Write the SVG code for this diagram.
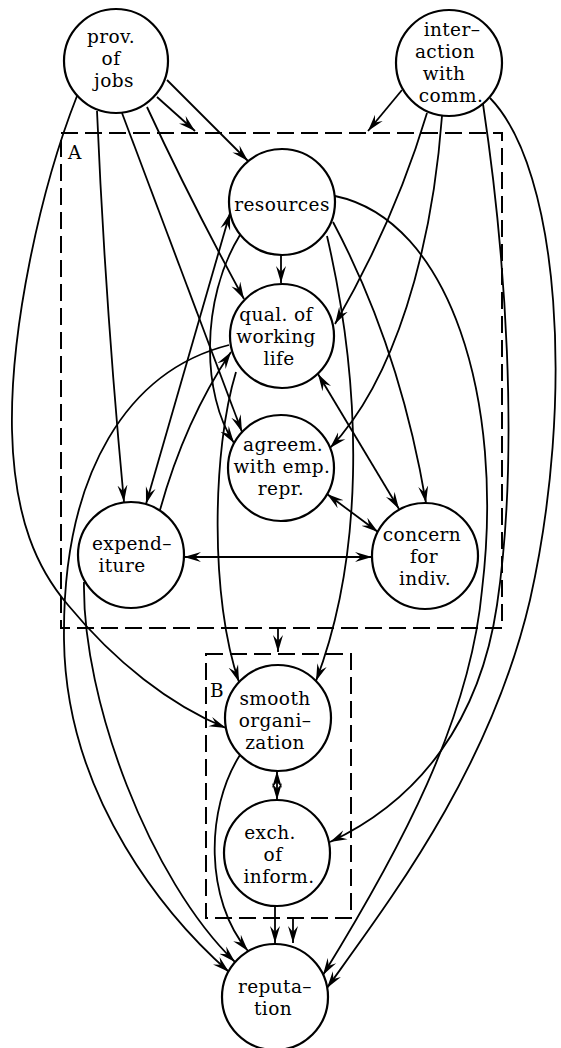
<svg xmlns="http://www.w3.org/2000/svg" width="561" height="1048" viewBox="0 0 561 1048">
  <defs>
    <marker id="arr" markerUnits="userSpaceOnUse" markerWidth="18" markerHeight="12" viewBox="0 0 18 12" refX="17" refY="6" orient="auto-start-reverse">
      <path d="M0,1 L17,6 L0,11 L6,6 Z" fill="#000"/>
    </marker>
    <style>
      .node circle { fill: #fff; stroke: #000; stroke-width: 2.2; }
      .node text, .lbl { font-family: "DejaVu Serif", "Liberation Serif", serif; font-size: 18.5px; letter-spacing: 0.4px; fill: #000; text-anchor: middle; }
      .lbl { text-anchor: start; }
      .box { fill: none; stroke: #000; stroke-width: 2; stroke-dasharray: 17 7; }
      .edges path { fill: none; stroke: #000; stroke-width: 1.8; }
      .one { marker-end: url(#arr); }
      .two { marker-start: url(#arr); marker-end: url(#arr); }
    </style>
  </defs>
  <rect width="561" height="1048" fill="#fff"/>

  <!-- group frames -->
  <g id="groupA">
    <rect class="box" x="61" y="133" width="441" height="495"/>
    <text class="lbl" x="68" y="159">A</text>
  </g>
  <g id="groupB">
    <rect class="box" x="206" y="654" width="145" height="264"/>
    <text class="lbl" x="210" y="697">B</text>
  </g>

  <!-- connectors -->
  <g class="edges">
    <path class="one" d="M157,97 L195,131"/>
    <path class="one" d="M402,90 L368,131"/>
    <path class="one" d="M278,628 L278,652"/>
    <path class="one" d="M293,918 L293,943"/>
    <path class="one" d="M275,906 L275,943"/>
    <path class="two" d="M277,771 L277,800"/>
    <path class="one" d="M167,80 L248,161"/>
    <path class="one" d="M147,107 Q190,200 244,299"/>
    <path class="one" d="M122,113 L242,432"/>
    <path class="one" d="M97,111 Q105,300 124,502"/>
    <path class="one" d="M77,96 C40,190 10,330 12,430 C14,520 38,570 68,605 C115,662 170,705 226,728"/>
    <path class="one" d="M281,255 L281,283"/>
    <path class="two" d="M230,213 L146,504"/>
    <path class="one" d="M160,510 Q185,420 231,352"/>
    <path class="one" d="M240,235 C200,300 202,395 234,443"/>
    <path class="one" d="M236,372 C212,450 210,600 239,682"/>
    <path class="one" d="M327,236 C365,400 362,560 316,681"/>
    <path class="one" d="M333,222 C385,320 412,420 426,503"/>
    <path class="two" d="M318,374 L399,509"/>
    <path class="two" d="M327,494 L378,532"/>
    <path class="two" d="M184,557 L372,557"/>
    <path class="one" d="M229,345 C130,370 62,470 64,640 C66,800 170,920 229,972"/>
    <path class="one" d="M84,582 C82,700 150,880 235,962"/>
    <path class="one" d="M240,755 C205,810 205,900 248,951"/>
    <path class="one" d="M335,196 C450,220 505,400 482,590 C470,720 400,850 323,975"/>
    <path class="one" d="M483,104 C505,250 520,450 497,605 C480,720 420,800 330,842"/>
    <path class="one" d="M490,98 C560,170 575,400 530,600 C490,770 390,900 327,988"/>
    <path class="one" d="M427,113 Q395,220 335,324"/>
    <path class="one" d="M442,116 C432,250 395,380 330,448"/>
  </g>

  <!-- nodes -->
  <g id="prov-of-jobs" class="node">
    <circle cx="116" cy="61" r="52"/>
    <text x="111" y="43">prov.</text>
    <text x="111" y="65">of</text>
    <text x="114" y="87">jobs</text>
  </g>
  <g id="interaction-with-comm" class="node">
    <circle cx="449" cy="63" r="53"/>
    <text x="452" y="36">inter–</text>
    <text x="445" y="58">action</text>
    <text x="444" y="80">with</text>
    <text x="451" y="102">comm.</text>
  </g>
  <g id="resources" class="node">
    <circle cx="282" cy="202" r="53"/>
    <text x="282" y="211">resources</text>
  </g>
  <g id="qual-of-working-life" class="node">
    <circle cx="282" cy="336" r="52"/>
    <text x="276" y="321">qual. of</text>
    <text x="276" y="343">working</text>
    <text x="279" y="365">life</text>
  </g>
  <g id="agreem-with-emp-repr" class="node">
    <circle cx="281" cy="468" r="53"/>
    <text x="283" y="451">agreem.</text>
    <text x="282" y="473">with emp.</text>
    <text x="281" y="495">repr.</text>
  </g>
  <g id="expenditure" class="node">
    <circle cx="131" cy="555" r="53"/>
    <text x="132" y="550">expend–</text>
    <text x="122" y="572">iture</text>
  </g>
  <g id="concern-for-indiv" class="node">
    <circle cx="425" cy="556" r="53"/>
    <text x="422" y="541">concern</text>
    <text x="424" y="563">for</text>
    <text x="425" y="585">indiv.</text>
  </g>
  <g id="smooth-organization" class="node">
    <circle cx="278" cy="718" r="53"/>
    <text x="275" y="705">smooth</text>
    <text x="275" y="727">organi–</text>
    <text x="275" y="749">zation</text>
  </g>
  <g id="exch-of-inform" class="node">
    <circle cx="277" cy="853" r="53"/>
    <text x="270" y="839">exch.</text>
    <text x="273" y="861">of</text>
    <text x="279" y="883">inform.</text>
  </g>
  <g id="reputation" class="node">
    <circle cx="275" cy="997" r="53"/>
    <text x="275" y="993">reputa–</text>
    <text x="273" y="1015">tion</text>
  </g>
</svg>
